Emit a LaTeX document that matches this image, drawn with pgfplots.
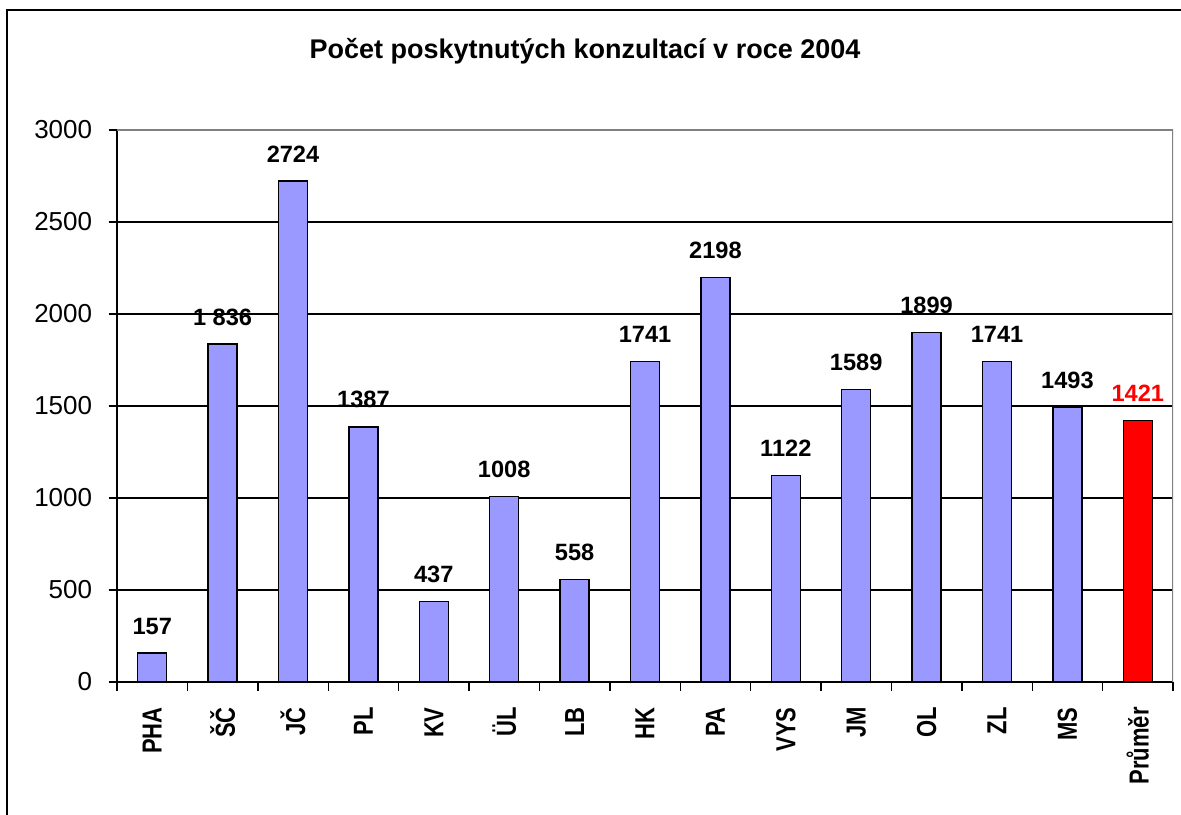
\documentclass[border=0pt]{standalone}
\usepackage{fontspec}
\setmainfont{Liberation Sans}
\usepackage{pgfplots}
\pgfplotsset{compat=1.18}
\definecolor{barblue}{HTML}{9999FF}
\definecolor{framegray}{HTML}{808080}
\newcommand\lab[1]{\scalebox{1}[1.25]{#1}}
\begin{document}
\begin{tikzpicture}
\useasboundingbox (0,0) rectangle (590.5pt,407pt);
\draw[line width=1pt] (3.5pt,-2pt) -- (3.5pt,402pt) -- (593pt,402pt);
\node[font=\fontsize{13.5}{16}\selectfont\bfseries, anchor=base, inner sep=0pt] at (292.5pt,377.9pt) {Počet poskytnutých konzultací v roce 2004};
\begin{axis}[
  at={(58.5pt,66pt)}, anchor=south west,
  scale only axis, width=528pt, height=276pt,
  xmin=-0.5, xmax=14.5, ymin=0, ymax=3000,
  axis x line*=bottom, axis y line*=left,
  axis line style={line width=0.7pt, black},
  ytick={0,500,...,3000},
  ymajorgrids, grid style={black, line width=0.6pt},
  tick align=outside, major tick length=4.25pt,
  tick style={black, line width=0.7pt},
  xtick={-0.5,0.5,...,14.5}, xticklabels={},
  extra x ticks={0,1,...,14},
  extra x tick labels={\lab{PHA},\lab{ŠČ},\lab{JČ},\lab{PL},\lab{KV},\lab{ÜL},\lab{LB},\lab{HK},\lab{PA},\lab{VYS},\lab{JM},\lab{OL},\lab{ZL},\lab{MS},\lab{Průměr}},
  extra x tick style={major tick length=0pt, grid=none,
    xticklabel style={rotate=90, anchor=east, font=\fontsize{11}{13}\selectfont\bfseries, inner sep=0pt}},
  xticklabel shift=12.5pt,
  yticklabel style={font=\fontsize{13}{15}\selectfont, anchor=east, inner sep=0pt},
  yticklabel shift=8pt,
  /pgf/number format/assume math mode=true,
  /pgf/number format/1000 sep={},
  ybar, bar width=14.5pt, bar shift=0pt,
  point meta=explicit symbolic,
  nodes near coords,
  every node near coord/.append style={anchor=south, inner sep=0pt, yshift=9pt, font=\fontsize{11.8}{14}\selectfont\bfseries},
]
\addplot[fill=barblue, draw=black, line width=0.75pt] coordinates {
 (0,157) [157]
 (1,1836) [1 836]
 (2,2724) [2724]
 (3,1387) [1387]
 (4,437) [437]
 (5,1008) [1008]
 (6,558) [558]
 (7,1741) [1741]
 (8,2198) [2198]
 (9,1122) [1122]
 (10,1589) [1589]
 (11,1899) [1899]
 (12,1741) [1741]
 (13,1493) [1493]
};
\addplot[fill=red, draw=black, line width=0.75pt, every node near coord/.append style={text=red}] coordinates {
 (14,1421) [1421]
};
\draw[framegray, line width=0.6pt] (rel axis cs:0,1) -- (rel axis cs:1,1) -- (rel axis cs:1,0);
\end{axis}
\end{tikzpicture}
\end{document}
